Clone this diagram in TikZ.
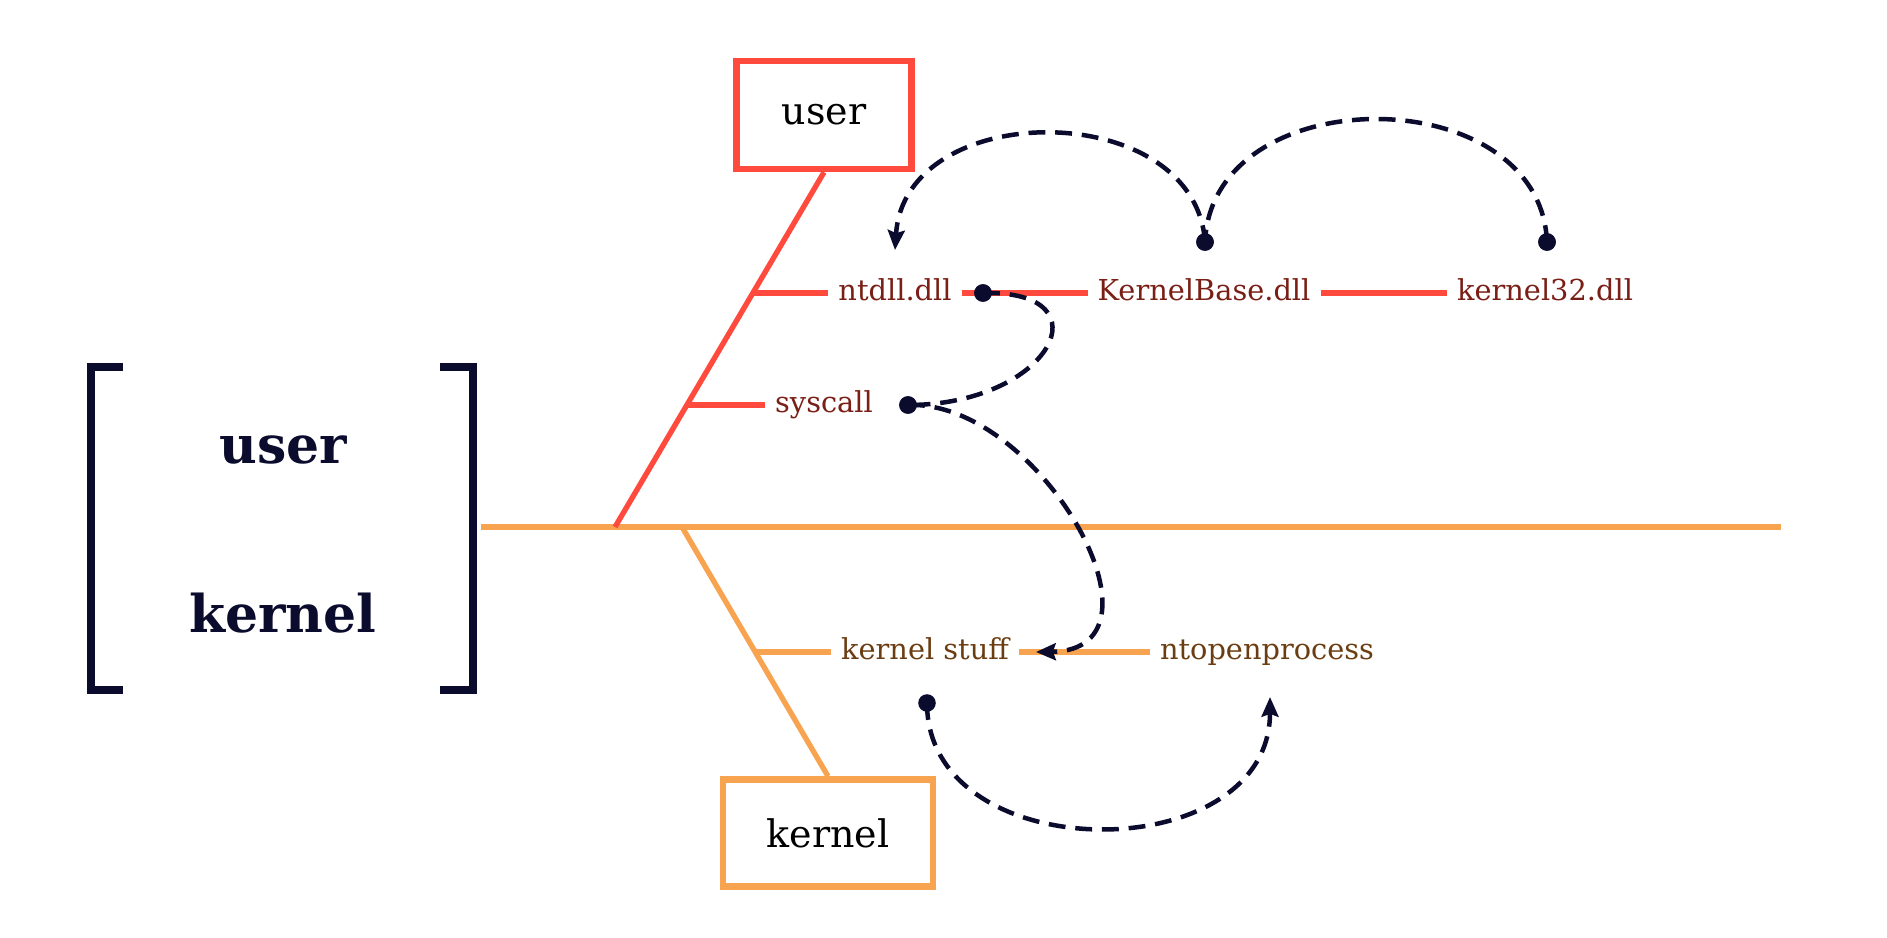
\documentclass[tikz,border=0pt]{standalone}
\usepackage{fontspec}
\setmainfont{DejaVu Serif}
\usetikzlibrary{arrows.meta,positioning}
\usepackage{xcolor}
\definecolor{userred}{HTML}{FF4A3D}
\definecolor{kernorange}{HTML}{F7A34F}
\definecolor{usertext}{HTML}{7A1F16}
\definecolor{kerntext}{HTML}{6B3D12}
\definecolor{navy}{HTML}{0B0B2E}

\begin{document}
\begin{tikzpicture}[x=0.025cm,y=-0.025cm,
      box node/.style={draw,line width=4.6pt,fill=white,inner sep=0pt,
          font=\fontsize{27}{32}\selectfont},
      lib node/.style={inner sep=7pt,text height=15pt,text depth=4pt,
          font=\fontsize{20.5}{24}\selectfont},
      ring node/.style={font=\fontsize{37}{40}\selectfont\bfseries,text=navy},
      dot node/.style={circle,fill=navy,inner sep=0pt,minimum size=12.5pt},
      spine/.style={line width=3.8pt},
      call/.style={navy,line width=3.2pt,dash pattern=on 12pt off 7pt,
          -{Stealth[length=14pt,width=12pt,inset=2pt]}}]

    \useasboundingbox (0,0) rectangle (1887,938);

    % the two rings
    \node[ring node] (userring) at (283,450) {user};
    \node[ring node] (kernring) at (283,613) {kernel};
    \draw[navy,line width=5pt] (123,367) -- (91,367) -- (91,690) -- (123,690);
    \draw[navy,line width=5pt] (440,367) -- (473,367) -- (473,690) -- (440,690);

    \node[box node,draw=userred,minimum width=4.375cm,minimum height=2.7cm]
        (userbox) at (824,115) {user};
    \node[box node,draw=kernorange,minimum width=5.25cm,minimum height=2.675cm]
        (kernbox) at (828,833) {kernel};

    \node[lib node,text=usertext] (ntdll) at (895,293) {ntdll.dll};
    \node[lib node,text=usertext] (kbase) at (1204,293) {KernelBase.dll};
    \node[lib node,text=usertext] (k32) at (1545,293) {kernel32.dll};
    \node[lib node,text=usertext] (syscall) at (824,405) {syscall};
    \node[lib node,text=kerntext] (kstuff) at (925,652) {kernel stuff};
    \node[lib node,text=kerntext] (ntopen) at (1267,652) {ntopenprocess};

    \coordinate (lineleft) at (481,527);
    \coordinate (lineright) at (1781,527);
    \coordinate (redfoot) at (615,527);
    \coordinate (orangetop) at (682,527);
    \coordinate (ntdlltick) at (753,293);
    \coordinate (syscalltick) at (687,405);
    \coordinate (kstufftick) at (755,652);

    % boundary and spines
    \draw[kernorange,spine] (lineleft) -- (lineright);
    \draw[userred,spine] (userbox.south) -- (redfoot);
    \draw[kernorange,spine] (orangetop) -- (kernbox.north);

    \path[userred,spine]
    (ntdlltick) edge (ntdll.west)
    (syscalltick) edge (syscall.west)
    (ntdll.east) edge (kbase.west)
    (kbase.east) edge (k32.west);
    \path[kernorange,spine]
    (kstufftick) edge (kstuff.west)
    (kstuff.east) edge (ntopen.west);

    % calls
    \node[dot node] (ntdlldot) at (983,293) {};
    \node[dot node] (sysdot) at (908,405) {};
    \node[dot node] (kbdot) at (1205,242) {};
    \node[dot node] (k32dot) at (1547,242) {};
    \node[dot node] (ksdot) at (927,703) {};
    \coordinate (ntdlltip) at (895,250);
    \coordinate (kstip) at (1036,652);
    \coordinate (ntotip) at (1270,697);

    \draw[call] (kbdot.center) .. controls (1195,97) and (905,97) .. (ntdlltip);
    \draw[call,-] (k32dot.center) .. controls (1540,78) and (1212,78) .. (kbdot.center);
    \draw[call,-] (ntdlldot.center) .. controls (1110,290) and (1050,405) .. (sysdot.center);
    \draw[call] (sysdot.center) .. controls (1040,400) and (1180,650) .. (kstip);
    \draw[call] (ksdot.center) .. controls (927,870) and (1270,870) .. (ntotip);

    \node[dot node] at (ntdlldot) {};
    \node[dot node] at (sysdot) {};
    \node[dot node] at (kbdot) {};
    \node[dot node] at (k32dot) {};

  \end{tikzpicture}
\end{document}
